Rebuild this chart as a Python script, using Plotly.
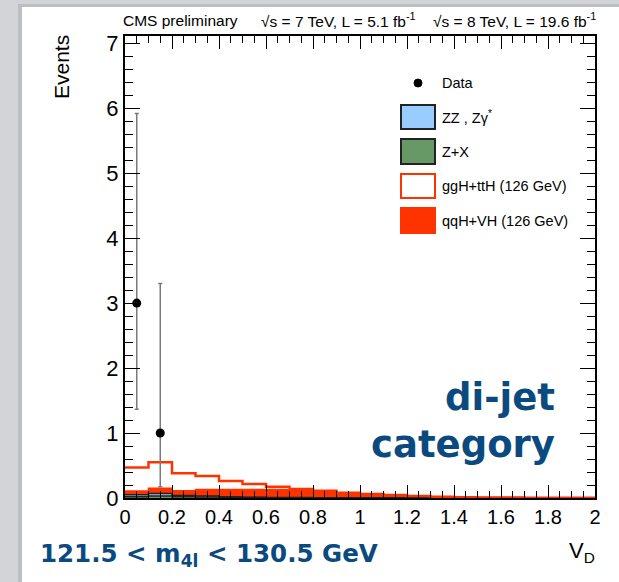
import plotly.graph_objects as go

# ---- binning (V_D, 20 bins of width 0.1) ----
bin_edges = [round(0.1 * i, 1) for i in range(21)]

# ---- expected yields per bin ----
zx_vals = [0.020, 0.030, 0.020, 0.015, 0.010, 0.006, 0.004, 0.003, 0.002, 0.002,
           0.001, 0.001, 0.001, 0.0, 0.0, 0.0, 0.0, 0.0, 0.0, 0.0]
zz_vals = [0.030, 0.040, 0.020, 0.015, 0.010, 0.006, 0.004, 0.003, 0.002, 0.002,
           0.001, 0.001, 0.001, 0.001, 0.0, 0.0, 0.0, 0.0, 0.0, 0.0]
qqh_vals = [0.057, 0.080, 0.070, 0.100, 0.110, 0.118, 0.122, 0.124, 0.106, 0.076,
            0.058, 0.043, 0.028, 0.019, 0.012, 0.008, 0.006, 0.004, 0.003, 0.002]
ggh_vals = [0.363, 0.400, 0.270, 0.210, 0.130, 0.085, 0.045, 0.010, 0.0, 0.0,
            0.0, 0.0, 0.0, 0.0, 0.0, 0.0, 0.0, 0.0, 0.0, 0.0]

# ---- observed data ----
data_x = [0.05, 0.15]
data_y = [3, 1]
data_err_up = [2.918, 2.300]
data_err_dn = [1.633, 0.827]

X_RANGE = [0, 2]
Y_RANGE = [0, 7.11]

RED = "#ff3300"
BLUE_ZZ = "#99ccff"
GREEN_ZX = "#669966"
NOTE_BLUE = "#0b4a7e"

# plot-area geometry in pixels (for placing text outside the axes)
W, H = 619, 582
ML, MR, MT, MB = 125, 24, 36, 84
PW, PH = W - ML - MR, H - MT - MB


def px(x):
    return (x - ML) / PW


def py(y):
    return (H - MB - y) / PH


def cumulate(*series):
    out = [0.0] * len(series[0])
    for s in series:
        out = [a + b for a, b in zip(out, s)]
    return out


def step(vals):
    return bin_edges, list(vals) + [vals[-1]]


tot_zx = cumulate(zx_vals)
tot_zz = cumulate(zx_vals, zz_vals)
tot_qqh = cumulate(zx_vals, zz_vals, qqh_vals)
tot_ggh = cumulate(zx_vals, zz_vals, qqh_vals, ggh_vals)

fig = go.Figure()

# stacked filled components (drawn from largest cumulative downwards)
for vals, fill, line in [(tot_qqh, RED, RED),
                         (tot_zz, BLUE_ZZ, "#222222"),
                         (tot_zx, GREEN_ZX, "#222222")]:
    xs, ys = step(vals)
    fig.add_trace(go.Scatter(x=xs, y=ys, mode="lines", line_shape="hv",
                             fill="tozeroy", fillcolor=fill,
                             line=dict(color=line, width=1.5),
                             showlegend=False, hoverinfo="skip"))

# hollow ggH+ttH on top of the stack
xs, ys = step(tot_ggh)
fig.add_trace(go.Scatter(x=xs, y=ys, mode="lines", line_shape="hv",
                         line=dict(color=RED, width=2.5),
                         showlegend=False, hoverinfo="skip"))

# data points with asymmetric Poisson errors
fig.add_trace(go.Scatter(
    x=data_x, y=data_y, mode="markers",
    marker=dict(color="black", size=9),
    error_y=dict(type="data", symmetric=False, array=data_err_up,
                 arrayminus=data_err_dn, color="#7a7a7a", thickness=1.5, width=2),
    showlegend=False, hoverinfo="skip"))

# empty trace that anchors the mirrored (top/right) tick axes
fig.add_trace(go.Scatter(x=[None], y=[None], xaxis="x2", yaxis="y2",
                         mode="markers", showlegend=False, hoverinfo="skip"))

shapes = []
annotations = []

# slide-style background: grey border with white page
shapes.append(dict(type="rect", xref="paper", yref="paper", layer="below",
                   x0=px(18), x1=px(W + 5), y0=py(H + 5), y1=py(4),
                   fillcolor="#bdbec2", line=dict(width=0)))
shapes.append(dict(type="rect", xref="paper", yref="paper", layer="below",
                   x0=px(22), x1=px(W + 5), y0=py(H + 5), y1=py(7),
                   fillcolor="white", line=dict(width=0)))

# legend
leg_x0, leg_x1 = 401, 435
leg_text_x = 440
LEG_FONT = dict(family="Liberation Sans, Arial, sans-serif", size=14.5, color="black")
shapes.append(dict(type="circle", xref="paper", yref="paper",
                   x0=px(414), x1=px(422), y0=py(87), y1=py(79),
                   fillcolor="black", line=dict(color="black", width=1)))
annotations.append(dict(x=px(leg_text_x), y=py(83), xref="paper", yref="paper",
                        text="Data", showarrow=False, xanchor="left",
                        yanchor="middle", font=LEG_FONT))
legend_rows = [
    ("ZZ , Zγ<sup>*</sup>", BLUE_ZZ, "#222222", 105, 129),
    ("Z+X", GREEN_ZX, "#222222", 139, 164),
    ("ggH+ttH (126 GeV)", "white", RED, 174, 198),
    ("qqH+VH (126 GeV)", RED, RED, 208, 233),
]
for label, fill, line, y0, y1 in legend_rows:
    shapes.append(dict(type="rect", xref="paper", yref="paper",
                       x0=px(leg_x0), x1=px(leg_x1), y0=py(y1), y1=py(y0),
                       fillcolor=fill, line=dict(color=line, width=2)))
    annotations.append(dict(x=px(leg_text_x), y=py((y0 + y1) / 2), xref="paper",
                            yref="paper", text=label, showarrow=False,
                            xanchor="left", yanchor="middle", font=LEG_FONT))

# header
HDR_FONT = dict(family="Liberation Sans, Arial, sans-serif", size=15.5, color="black")
for text, x in [("CMS preliminary", 121),
                ("√s = 7 TeV, L = 5.1 fb<sup>-1</sup>", 259),
                ("√s = 8 TeV, L = 19.6 fb<sup>-1</sup>", 431)]:
    annotations.append(dict(x=px(x), y=py(20), xref="paper", yref="paper",
                            text=text, showarrow=False, xanchor="left",
                            yanchor="middle", font=HDR_FONT))

# axis titles
annotations.append(dict(x=px(62), y=py(33), xref="paper", yref="paper",
                        text="Events", showarrow=False, textangle=-90,
                        xanchor="center", yanchor="top",
                        font=dict(family="Liberation Sans, Arial, sans-serif",
                                  size=21, color="black")))
annotations.append(dict(x=px(597), y=py(552), xref="paper", yref="paper",
                        text="V<sub>D</sub>", showarrow=False,
                        xanchor="right", yanchor="middle",
                        font=dict(family="Liberation Sans, Arial, sans-serif",
                                  size=22, color="black")))

# category notes
NOTE_FONT = dict(family="DejaVu Sans, sans-serif", size=37, color=NOTE_BLUE,
                 weight="bold")
annotations.append(dict(x=px(557), y=py(397), xref="paper", yref="paper",
                        text="di-jet", showarrow=False, xanchor="right",
                        yanchor="middle", font=NOTE_FONT))
annotations.append(dict(x=px(557), y=py(444), xref="paper", yref="paper",
                        text="category", showarrow=False, xanchor="right",
                        yanchor="middle", font=NOTE_FONT))
annotations.append(dict(x=px(38), y=py(555), xref="paper", yref="paper",
                        text="121.5 < m<sub>4l</sub> < 130.5 GeV", showarrow=False,
                        xanchor="left", yanchor="middle",
                        font=dict(family="DejaVu Sans, sans-serif", size=24.5,
                                  color=NOTE_BLUE, weight="bold")))

AX_FONT = dict(family="Liberation Sans, Arial, sans-serif", size=20, color="black")

x_ticks = dict(range=X_RANGE, tickmode="linear", tick0=0, dtick=0.2,
               ticks="inside", ticklen=13, tickwidth=1.2, tickcolor="black",
               showline=True, linecolor="black", linewidth=2,
               showgrid=False, zeroline=False,
               minor=dict(dtick=0.05, ticks="inside", ticklen=7,
                          tickwidth=1.2, tickcolor="black", showgrid=False))
y_ticks = dict(range=Y_RANGE, tickmode="linear", tick0=0, dtick=1,
               ticks="inside", ticklen=15, tickwidth=1.2, tickcolor="black",
               showline=True, linecolor="black", linewidth=2,
               showgrid=False, zeroline=False,
               minor=dict(dtick=0.2, ticks="inside", ticklen=8,
                          tickwidth=1.2, tickcolor="black", showgrid=False))

fig.update_layout(
    width=W, height=H, autosize=False,
    margin=dict(l=ML, r=MR, t=MT, b=MB, pad=0),
    paper_bgcolor="#d3d4d7", plot_bgcolor="white",
    shapes=shapes, annotations=annotations, showlegend=False,
    xaxis=dict(**x_ticks, side="bottom", tickfont=AX_FONT),
    yaxis=dict(**y_ticks, side="left",
               tickfont=dict(family="Liberation Sans, Arial, sans-serif",
                             size=22, color="black")),
    xaxis2=dict(**x_ticks, side="top", overlaying="x", anchor="y",
                showticklabels=False),
    yaxis2=dict(**y_ticks, side="right", overlaying="y", anchor="x",
                showticklabels=False),
)

fig.write_html("out.html")
